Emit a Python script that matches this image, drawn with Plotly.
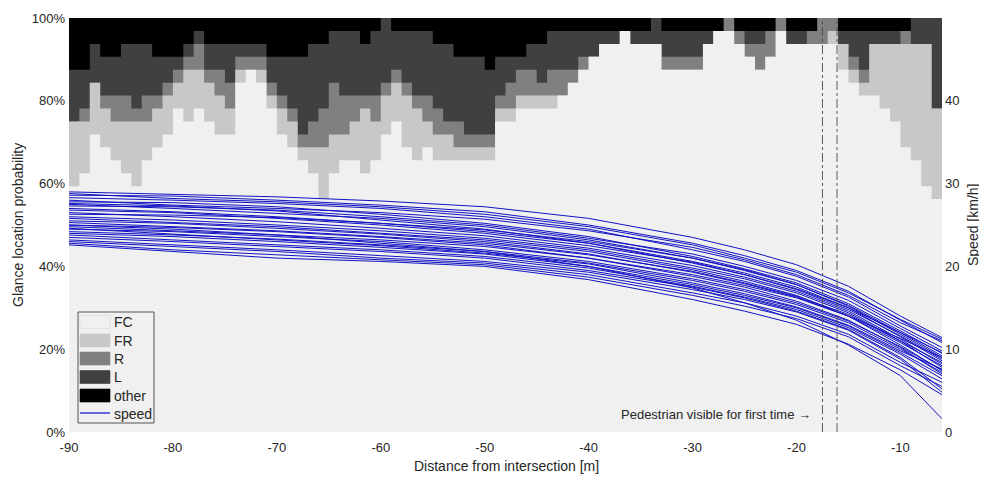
import plotly.graph_objects as go

# ---- glance data: cumulative counts (out of 32 drivers) per 1 m bin, bins start at -90 ... -7
bin_start = list(range(-90, -6))
n_drivers = 32
fc_top = [19,20,23,22,21,20,19,21,22,23,25,24,25,24,
          23,23,27,28,27,25,23,22,21,20,18,20,21,21,
          20,21,23,24,22,21,22,21,21,21,21,21,21,24,
          24,25,25,25,25,26,27,28,29,30,30,31,30,30,
          30,28,28,28,28,30,31,31,30,29,28,29,31,30,
          30,30,30,30,28,27,26,26,25,24,22,21,19,18]
fr_top = [24,24,27,25,24,24,24,24,25,26,27,28,28,27,
          26,25,28,28,28,26,25,24,22,22,22,23,23,24,
          25,24,26,27,26,25,24,23,23,22,22,22,22,25,
          25,26,26,26,26,26,27,28,29,30,30,31,30,30,
          30,28,28,28,28,30,31,31,30,29,28,29,31,30,
          30,30,30,31,30,28,27,30,30,30,30,30,30,25]
r_top = [24,25,27,26,26,26,25,26,26,27,28,29,30,28,
         28,27,29,29,29,27,26,25,23,24,25,27,26,26,
         26,26,27,28,27,26,26,25,24,24,23,23,23,26,
         27,28,28,27,28,28,28,29,29,30,30,31,30,30,
         30,29,29,29,29,30,31,32,31,30,30,31,32,30,
         30,31,32,32,30,29,28,30,30,30,31,30,30,25]
l_top = [28,28,30,29,29,30,30,30,29,29,29,30,31,30,
         30,30,30,30,30,29,29,29,29,30,30,31,31,31,
         30,31,32,31,31,31,31,30,30,29,29,29,28,29,
         29,29,30,30,31,31,31,31,31,31,31,31,31,31,
         32,31,31,31,31,31,31,32,31,31,31,31,32,31,
         31,31,32,32,31,31,31,31,31,31,31,32,32,32]

# ---- speed profiles [km/h] at these distances
speed_dist = [-90, -80, -70, -60, -50, -40, -30, -25, -20, -15, -10, -6]
speeds = [
    [29.0, 28.7, 28.4, 27.9, 27.2, 25.8, 23.5, 22.0, 20.2, 17.6, 14.0, 11.4],
    [28.6, 28.5, 28.0, 27.4, 26.6, 25.0, 22.8, 21.3, 19.5, 17.0, 13.5, 10.8],
    [28.3, 28.0, 27.6, 27.0, 26.0, 24.5, 22.0, 20.6, 18.8, 16.3, 12.8, 10.2],
    [28.0, 27.4, 27.0, 26.5, 25.7, 24.3, 22.3, 20.8, 19.0, 16.5, 13.2, 11.0],
    [27.8, 27.7, 27.2, 26.3, 25.2, 23.6, 21.2, 19.7, 18.0, 15.5, 12.2, 9.5],
    [27.5, 27.0, 26.4, 25.8, 24.8, 23.2, 21.0, 19.6, 17.8, 15.2, 11.8, 9.0],
    [27.3, 27.2, 26.8, 26.0, 25.0, 23.4, 21.5, 20.0, 18.3, 15.9, 12.5, 9.8],
    [27.0, 26.6, 26.0, 25.2, 24.2, 22.8, 20.6, 19.2, 17.5, 15.0, 11.5, 8.6],
    [26.8, 26.5, 25.8, 25.0, 24.0, 22.5, 20.5, 19.0, 17.2, 14.8, 11.6, 8.8],
    [26.5, 26.0, 25.4, 24.6, 23.7, 22.2, 20.1, 18.7, 17.0, 14.6, 11.2, 8.2],
    [26.3, 26.2, 25.9, 25.2, 24.4, 23.0, 21.0, 19.5, 17.8, 15.3, 12.0, 9.2],
    [26.0, 25.6, 25.0, 24.3, 23.4, 22.0, 19.8, 18.5, 16.8, 14.4, 11.0, 7.8],
    [25.8, 25.3, 24.8, 24.0, 23.2, 21.8, 19.6, 18.2, 16.5, 14.0, 10.5, 7.4],
    [25.5, 25.2, 24.6, 23.9, 23.0, 21.5, 19.3, 17.9, 16.3, 14.0, 10.8, 8.0],
    [25.3, 24.8, 24.3, 23.6, 22.8, 21.4, 19.4, 18.0, 16.4, 14.2, 11.0, 8.4],
    [25.0, 24.7, 24.2, 23.5, 22.6, 21.0, 18.8, 17.5, 15.8, 13.5, 10.2, 7.0],
    [24.8, 24.3, 23.8, 23.2, 22.4, 21.0, 19.0, 17.7, 16.2, 14.0, 11.3, 9.0],
    [24.5, 24.2, 23.6, 23.0, 22.0, 20.6, 18.5, 17.2, 15.6, 13.4, 10.3, 7.5],
    [24.2, 23.8, 23.3, 22.6, 21.8, 20.4, 18.3, 17.0, 15.4, 13.2, 10.0, 7.2],
    [24.0, 23.6, 23.0, 22.3, 21.5, 20.0, 17.8, 16.5, 15.0, 12.8, 9.6, 6.8],
    [23.8, 23.2, 22.6, 22.0, 21.2, 19.8, 17.6, 16.3, 14.8, 12.6, 9.4, 6.4],
    [23.5, 23.0, 22.4, 21.8, 21.0, 19.5, 17.5, 16.2, 14.6, 12.4, 9.0, 5.2],
    [23.2, 22.6, 22.0, 21.3, 20.6, 19.3, 17.2, 16.0, 14.5, 12.3, 8.8, 4.8],
    [23.0, 22.4, 21.8, 21.0, 20.4, 19.0, 16.8, 15.6, 14.0, 11.8, 8.4, 6.0],
    [22.8, 22.0, 21.4, 20.8, 20.2, 18.7, 16.5, 15.2, 13.7, 11.5, 8.0, 5.5],
    [22.6, 21.8, 21.0, 20.6, 20.0, 18.4, 16.0, 14.6, 13.0, 10.6, 7.5, 4.5],
    [25.0, 24.5, 23.8, 22.8, 21.8, 20.0, 17.4, 15.6, 13.5, 10.5, 6.8, 1.6],
    [27.6, 27.3, 26.7, 25.6, 24.5, 22.8, 20.4, 19.0, 17.3, 15.0, 12.0, 9.6],
    [28.8, 28.2, 27.8, 27.2, 26.3, 24.8, 22.6, 21.0, 19.3, 16.8, 13.6, 11.2],
    [24.6, 23.9, 23.2, 22.5, 21.6, 20.3, 18.0, 16.7, 15.1, 12.9, 9.8, 7.6],
]

x_ticks = [-90, -80, -70, -60, -50, -40, -30, -20, -10]
x_tick_text = ["-90", "-80", "-70", "-60", "-50", "-40", "-30", "-20", "-10"]
y_ticks = [0, 20, 40, 60, 80, 100]
y_tick_text = ["0%", "20%", "40%", "60%", "80%", "100%"]
y2_ticks = [0, 10, 20, 30, 40]
y2_tick_text = ["0", "10", "20", "30", "40"]

ped_lines = [-17.5, -16.1]
ped_label = "Pedestrian visible for first time \u2192"

legend_names = ["FC", "FR", "R", "L", "other"]
legend_colors = ["#f0f0f0", "#c8c8c8", "#808080", "#404040", "#000000"]

FONT = "Liberation Sans, Arial, sans-serif"
TXT = "#262626"
BLUE = "#1212c4"

# page has an 8px body margin -> figure drawn slightly smaller
W, H = 979, 469
ML, MR, MT, MB = 61, 45, 10, 45
PW, PH = W - ML - MR, H - MT - MB
OFF = 8

def px(xp):   # page pixel x -> paper x
    return (xp - OFF - ML) / PW

def py(yp):   # page pixel y -> paper y
    return (H - MB - (yp - OFF)) / PH

def to_pct(vals):
    p = [v / n_drivers * 100 for v in vals]
    return p + [p[-1]]

x_edges = bin_start + [bin_start[-1] + 1]

fig = go.Figure()
layers = [
    ("other", [n_drivers] * len(bin_start), "#000000"),
    ("L", l_top, "#404040"),
    ("R", r_top, "#808080"),
    ("FR", fr_top, "#c8c8c8"),
    ("FC", fc_top, "#f0f0f0"),
]
for name, vals, col in layers:
    fig.add_trace(go.Scatter(
        x=x_edges, y=to_pct(vals), mode="lines", line=dict(shape="hv", width=0, color=col),
        fill="tozeroy", fillcolor=col, name=name, showlegend=False, yaxis="y",
        hoverinfo="skip"))

for i, s in enumerate(speeds):
    fig.add_trace(go.Scatter(
        x=speed_dist, y=s, mode="lines", line=dict(color=BLUE, width=1),
        name="speed", showlegend=False, yaxis="y2"))

for xv in ped_lines:
    fig.add_shape(type="line", x0=xv, x1=xv, y0=0, y1=1, xref="x", yref="paper",
                  line=dict(color="#4a4a4a", width=0.9, dash="dashdot"))

fig.add_annotation(x=ped_lines[0], y=4.2, xref="x", yref="y", text=ped_label,
                   showarrow=False, xanchor="right", yanchor="middle", xshift=-9,
                   font=dict(family=FONT, size=13, color=TXT))

# ---- manual legend (MATLAB style)
fig.add_shape(type="rect", xref="paper", yref="paper",
              x0=px(78), x1=px(154), y0=py(423), y1=py(312),
              line=dict(color="#555555", width=1), fillcolor="#f0f0f0")
row_y = [322, 340.5, 358.5, 377, 395.5]
for name, col, yc in zip(legend_names, legend_colors, row_y):
    fig.add_shape(type="rect", xref="paper", yref="paper",
                  x0=px(80), x1=px(110), y0=py(yc + 6.5), y1=py(yc - 6.5),
                  line=dict(color="#d8d8d8" if name == "FC" else col, width=0.6), fillcolor=col)
    fig.add_annotation(x=px(112), y=py(yc), xref="paper", yref="paper", text=name,
                       showarrow=False, xanchor="left", yanchor="middle",
                       font=dict(family=FONT, size=14, color=TXT))
fig.add_shape(type="line", xref="paper", yref="paper", x0=px(80), x1=px(110),
              y0=py(413), y1=py(413), line=dict(color="#2a2ad8", width=1.4))
fig.add_annotation(x=px(112), y=py(413.5), xref="paper", yref="paper", text="speed",
                   showarrow=False, xanchor="left", yanchor="middle",
                   font=dict(family=FONT, size=14, color=TXT))

# ---- axis titles
fig.add_annotation(x=px(18), y=py(225), xref="paper", yref="paper",
                   text="Glance location probability", textangle=-90, showarrow=False,
                   xanchor="center", yanchor="middle", font=dict(family=FONT, size=14, color=TXT))
fig.add_annotation(x=px(973), y=py(225), xref="paper", yref="paper",
                   text="Speed [km/h]", textangle=-90, showarrow=False,
                   xanchor="center", yanchor="middle", font=dict(family=FONT, size=14, color=TXT))
fig.add_annotation(x=px(506), y=py(466), xref="paper", yref="paper",
                   text="Distance from intersection [m]", showarrow=False,
                   xanchor="center", yanchor="middle", font=dict(family=FONT, size=14, color=TXT))

fig.update_layout(
    width=W, height=H,
    margin=dict(l=ML, r=MR, t=MT, b=MB, autoexpand=False),
    paper_bgcolor="white", plot_bgcolor="#f0f0f0",
    font=dict(family=FONT, size=13, color=TXT),
    showlegend=False,
    xaxis=dict(range=[-90, -6], tickvals=x_ticks, ticktext=x_tick_text,
               showgrid=False, zeroline=False, ticks="", showline=False,
               ticklabelstandoff=6, tickfont=dict(size=13)),
    yaxis=dict(range=[0, 100], tickvals=y_ticks, ticktext=y_tick_text,
               showgrid=False, zeroline=False, ticks="", showline=False,
               ticklabelstandoff=3, tickfont=dict(size=13)),
    yaxis2=dict(range=[0, 50], tickvals=y2_ticks, ticktext=y2_tick_text,
                overlaying="y", side="right",
                showgrid=False, zeroline=False, ticks="", showline=False,
                ticklabelstandoff=2, tickfont=dict(size=13)),
)

fig.write_html("out.html")
